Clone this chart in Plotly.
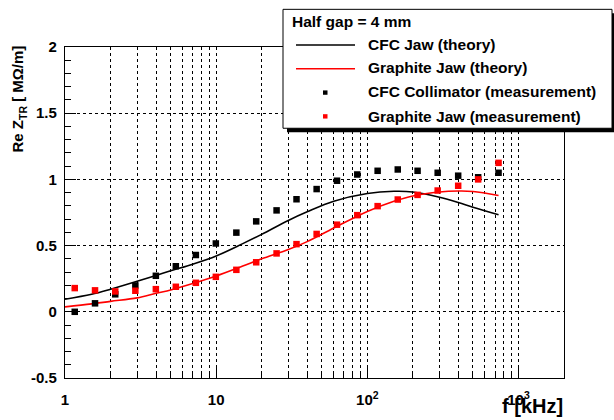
import numpy as np
import plotly.graph_objects as go

# ---------------- data ----------------
freq_meas = [1.16, 1.58, 2.15, 2.92, 3.99, 5.41, 7.34, 9.95, 13.6, 18.4, 25.1,
             34.0, 46.2, 63.0, 85.8, 117, 159, 215, 292, 399, 541, 738]
cfc_meas = [0.00, 0.064, 0.132, 0.199, 0.272, 0.344, 0.429, 0.516, 0.598, 0.683, 0.766,
            0.850, 0.927, 0.990, 1.037, 1.065, 1.075, 1.065, 1.050, 1.028, 1.016, 1.050]
graphite_meas = [0.179, 0.162, 0.154, 0.159, 0.171, 0.189, 0.219, 0.264, 0.317, 0.374, 0.441,
                 0.511, 0.588, 0.658, 0.730, 0.798, 0.848, 0.883, 0.916, 0.952, 1.000, 1.125]

freq_theory = [1, 1.5, 2, 3, 4, 5, 7, 10, 15, 20, 30, 40, 60, 100, 150, 200, 300, 400, 500, 738]
cfc_theory = [0.095, 0.132, 0.17, 0.23, 0.275, 0.31, 0.36, 0.422, 0.515, 0.585, 0.69, 0.755,
              0.835, 0.893, 0.91, 0.905, 0.865, 0.825, 0.79, 0.733]
graphite_theory = [0.037, 0.06, 0.079, 0.105, 0.14, 0.165, 0.213, 0.27, 0.345, 0.40, 0.47, 0.53,
                   0.633, 0.758, 0.835, 0.875, 0.905, 0.912, 0.909, 0.878]

x_major_vals = [1, 10, 100, 1000]
x_major_text = ["1", "10", "10<sup>2</sup>", "10<sup>3</sup>"]
y_tick_vals = [-0.5, 0, 0.5, 1, 1.5, 2]
y_tick_text = ["-0.5", "0", "0.5", "1", "1.5", "2"]

legend_header = "Half gap = 4 mm"
legend_labels = ["CFC Jaw (theory)", "Graphite Jaw (theory)",
                 "CFC Collimator (measurement)", "Graphite Jaw (measurement)"]

# ---------------- figure ----------------
W, H = 614, 420
L, R, T, B = 65, 50, 47, 39
PW, PH = W - L - R, H - T - B
FONT = "Liberation Sans, Arial, Helvetica, sans-serif"
RED = "#ff0000"


def px(x):
    return (x - L) / PW


def py(y):
    return (H - B - y) / PH


fig = go.Figure()
fig.add_trace(go.Scatter(x=freq_theory, y=cfc_theory, mode="lines", line=dict(color="black", width=1.6, shape="spline"),
                         name=legend_labels[0]))
fig.add_trace(go.Scatter(x=freq_theory, y=graphite_theory, mode="lines", line=dict(color=RED, width=1.6, shape="spline"),
                         name=legend_labels[1]))
fig.add_trace(go.Scatter(x=freq_meas, y=cfc_meas, mode="markers",
                         marker=dict(symbol="square", size=6.5, color="black", line=dict(width=0)),
                         name=legend_labels[2]))
fig.add_trace(go.Scatter(x=freq_meas, y=graphite_meas, mode="markers",
                         marker=dict(symbol="square", size=6.5, color=RED, line=dict(width=0)),
                         name=legend_labels[3]))

minor_vals = [m * 10 ** d for d in range(0, 4) for m in range(2, 10) if m * 10 ** d <= 2000]

fig.update_xaxes(type="log", range=[0, np.log10(2000)],
                 tickvals=x_major_vals, ticktext=x_major_text,
                 ticks="inside", ticklen=11, tickwidth=1, tickcolor="black",
                 showline=True, linecolor="black", linewidth=1.3, mirror=True,
                 showgrid=True, gridcolor="black", gridwidth=1, griddash="dot",
                 zeroline=False,
                 tickfont=dict(family=FONT, size=15, color="black", weight="bold"),
                 ticklabelstandoff=8,
                 minor=dict(tickvals=minor_vals, ticks="inside", ticklen=6, tickcolor="black",
                            showgrid=True, gridcolor="black", gridwidth=1, griddash="dot"))
fig.update_yaxes(range=[-0.5, 2], tickvals=y_tick_vals, ticktext=y_tick_text,
                 ticks="inside", ticklen=11, tickwidth=1, tickcolor="black",
                 showline=True, linecolor="black", linewidth=1.3, mirror=True,
                 showgrid=True, gridcolor="black", gridwidth=1, griddash="dot",
                 zeroline=False,
                 tickfont=dict(family=FONT, size=15, color="black", weight="bold"),
                 ticklabelstandoff=4,
                 minor=dict(dtick=0.1, ticks="inside", ticklen=6, tickcolor="black", showgrid=False))

shapes = []
annotations = []

# legend box with shadow
shapes.append(dict(type="rect", xref="paper", yref="paper", x0=px(287), x1=px(616), y0=py(133), y1=py(13),
                   fillcolor="black", line=dict(width=0), layer="above"))
shapes.append(dict(type="rect", xref="paper", yref="paper", x0=px(283), x1=px(612), y0=py(129), y1=py(9),
                   fillcolor="white", line=dict(color="black", width=1), layer="above"))
shapes.append(dict(type="line", xref="paper", yref="paper", x0=px(296), x1=px(355), y0=py(45), y1=py(45),
                   line=dict(color="black", width=1.6), layer="above"))
shapes.append(dict(type="line", xref="paper", yref="paper", x0=px(296), x1=px(355), y0=py(69), y1=py(69),
                   line=dict(color=RED, width=1.6), layer="above"))
for yy, col in [(93, "black"), (117, RED)]:
    shapes.append(dict(type="rect", xref="paper", yref="paper", x0=px(323), x1=px(327.5), y0=py(yy + 2.2),
                       y1=py(yy - 2.2), fillcolor=col, line=dict(width=0), layer="above"))

leg_font = dict(family=FONT, size=15.5, color="black", weight="bold")
annotations.append(dict(text=legend_header, xref="paper", yref="paper", x=px(290), y=py(21),
                        xanchor="left", yanchor="middle", showarrow=False, font=leg_font))
for lab, yy in zip(legend_labels, [44, 68, 92, 117]):
    annotations.append(dict(text=lab, xref="paper", yref="paper", x=px(366), y=py(yy),
                            xanchor="left", yanchor="middle", showarrow=False, font=leg_font))

# axis titles
annotations.append(dict(text="Re Z<sub>TR</sub> [ MΩ/m]", xref="paper", yref="paper", x=px(19), y=py(44),
                        xanchor="center", yanchor="top", textangle=-90, showarrow=False,
                        font=dict(family=FONT, size=15, color="black", weight="bold")))
annotations.append(dict(text="f [kHz]", xref="paper", yref="paper", x=px(565), y=py(409),
                        xanchor="right", yanchor="middle", showarrow=False,
                        font=dict(family=FONT, size=20, color="black", weight="bold")))

fig.update_layout(width=W, height=H, autosize=False,
                  margin=dict(l=L, r=R, t=T, b=B, pad=0),
                  paper_bgcolor="white", plot_bgcolor="white",
                  showlegend=False, shapes=shapes, annotations=annotations,
                  font=dict(family=FONT, color="black"))

fig.write_html("out.html", config={"displayModeBar": False},
               post_script="document.body.style.margin='0px';document.body.style.overflow='hidden';")
